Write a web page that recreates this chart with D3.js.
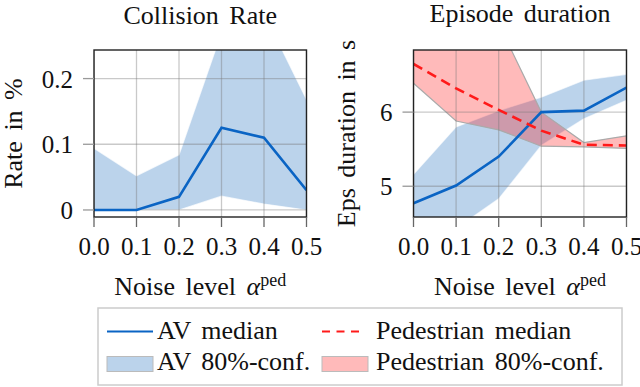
<!DOCTYPE html>
<html lang="en">
<head>
    <meta charset="UTF-8">
    <title>Collision rate and episode duration</title>
    <script src="https://d3js.org/d3.v7.min.js"></script>
    <style>
        body { margin: 0; background: #fff; }
        svg text { font-family: "Liberation Serif", "DejaVu Serif", serif; font-size: 26px; fill: #111; word-spacing: 4px; }
        svg text.tick { font-size: 25px; }
    </style>
</head>
<body>
<svg width="640" height="387"></svg>

<script>
    // noise levels alpha^ped
    const noise = [0.0, 0.1, 0.2, 0.3, 0.4, 0.5];
    const xTicks = ["0.0", "0.1", "0.2", "0.3", "0.4", "0.5"];

    // collision rate (AV)
    const colMed = [0, 0, 0.02, 0.125, 0.11, 0.03];
    const colLo  = [0, 0, 0, 0.021, 0.009, 0];
    const colHi  = [0.094, 0.052, 0.084, 0.27, 0.30, 0.168];

    // episode duration, AV
    const avMed = [4.77, 5.01, 5.40, 6.00, 6.02, 6.33];
    const avLo  = [4.30, 4.43, 4.83, 5.55, 5.91, 6.16];
    const avHi  = [5.16, 5.80, 6.02, 6.20, 6.43, 6.51];

    // episode duration, pedestrian
    const pedMed = [6.65, 6.32, 6.03, 5.75, 5.56, 5.55];
    const pedLo  = [6.39, 5.88, 5.76, 5.54, 5.53, 5.51];
    const pedHi  = [7.2, 7.2, 7.19, 6.0, 5.59, 5.68];

    const blueLine = "#0a64c4", blueFill = "rgba(30,110,190,0.3)";
    const redLine = "#ff1a1a", redFill = "rgba(255,0,0,0.27)";

    const svg = d3.select("svg");

    function panel(cfg) {
        const x = d3.scaleLinear().domain([0, 0.5]).range([cfg.left, cfg.right]);
        const y = d3.scaleLinear().domain(cfg.yDomain).range([217, 50]);
        const g = svg.append("g");

        const clipId = "clip" + cfg.id;
        svg.append("clipPath").attr("id", clipId)
            .append("rect").attr("x", cfg.left).attr("y", 50)
            .attr("width", cfg.right - cfg.left).attr("height", 167);

        const plot = g.append("g").attr("clip-path", "url(#" + clipId + ")");

        const area = (lo, hi) => d3.area()
            .x((d, i) => x(noise[i])).y0((d, i) => y(lo[i])).y1((d, i) => y(hi[i]))(lo);
        const line = vals => d3.line().x((d, i) => x(noise[i])).y(d => y(d))(vals);

        // confidence bands
        cfg.bands.forEach(b => {
            plot.append("path").attr("d", area(b.lo, b.hi)).attr("fill", b.fill);
            [b.lo, b.hi].forEach(v => plot.append("path").attr("d", line(v))
                .attr("fill", "none").attr("stroke", b.edge).attr("stroke-width", 1.2));
        });

        // grid
        plot.selectAll(".gx").data(noise).enter().append("line")
            .attr("x1", d => x(d)).attr("x2", d => x(d)).attr("y1", 50).attr("y2", 217)
            .attr("stroke", "rgba(120,120,120,0.4)").attr("stroke-width", 1.3);
        plot.selectAll(".gy").data(cfg.yTicks).enter().append("line")
            .attr("x1", cfg.left).attr("x2", cfg.right).attr("y1", d => y(d)).attr("y2", d => y(d))
            .attr("stroke", "rgba(120,120,120,0.4)").attr("stroke-width", 1.3);

        // medians
        cfg.lines.forEach(l => plot.append("path").attr("d", line(l.vals))
            .attr("fill", "none").attr("stroke", l.color).attr("stroke-width", 2.6)
            .attr("stroke-dasharray", l.dash || null));

        // frame
        g.append("rect").attr("x", cfg.left).attr("y", 50)
            .attr("width", cfg.right - cfg.left).attr("height", 167)
            .attr("fill", "none").attr("stroke", "#222").attr("stroke-width", 1.4);

        // x ticks
        g.selectAll(".tx").data(noise).enter().append("line")
            .attr("x1", d => x(d)).attr("x2", d => x(d)).attr("y1", 217).attr("y2", 227)
            .attr("stroke", "#666").attr("stroke-width", 1.3);
        g.selectAll(".lx").data(noise).enter().append("text").attr("class", "tick")
            .attr("x", d => x(d)).attr("y", 255).attr("text-anchor", "middle")
            .text((d, i) => xTicks[i]);

        // y ticks
        g.selectAll(".ty").data(cfg.yTicks).enter().append("line")
            .attr("x1", cfg.left - 11).attr("x2", cfg.left).attr("y1", d => y(d)).attr("y2", d => y(d))
            .attr("stroke", "#999").attr("stroke-width", 1.3);
        g.selectAll(".ly").data(cfg.yTicks).enter().append("text").attr("class", "tick")
            .attr("x", cfg.left - 21).attr("y", d => y(d) + 9).attr("text-anchor", "end")
            .text((d, i) => cfg.yLabels[i]);

        // titles and axis labels
        const cx = (cfg.left + cfg.right) / 2;
        g.append("text").attr("x", cx).attr("y", cfg.titleY).attr("text-anchor", "middle").text(cfg.title);

        const xl = g.append("text").attr("x", cx).attr("y", 295).attr("text-anchor", "middle");
        xl.append("tspan").text("Noise level ");
        xl.append("tspan").attr("font-style", "italic").text("α");
        xl.append("tspan").attr("dy", -9).attr("font-size", "18px").text("ped");

        g.append("text").attr("transform", `translate(${cfg.yLabelX},133.5) rotate(-90)`)
            .attr("text-anchor", "middle").text(cfg.yLabel);
    }

    panel({
        id: "a", left: 94, right: 306.5, yDomain: [-0.0107, 0.2435],
        yTicks: [0, 0.1, 0.2], yLabels: ["0", "0.1", "0.2"],
        title: "Collision Rate", titleY: 24, yLabel: "Rate in %", yLabelX: 22,
        bands: [{lo: colLo, hi: colHi, fill: blueFill, edge: "rgba(255,255,255,0.7)"}],
        lines: [{vals: colMed, color: blueLine}]
    });

    panel({
        id: "b", left: 413.5, right: 626.5, yDomain: [4.585, 6.838],
        yTicks: [5, 6], yLabels: ["5", "6"],
        title: "Episode duration", titleY: 22, yLabel: "Eps duration in s", yLabelX: 355,
        bands: [
            {lo: avLo, hi: avHi, fill: blueFill, edge: "rgba(255,255,255,0.6)"},
            {lo: pedLo, hi: pedHi, fill: redFill, edge: "#aaa"}
        ],
        lines: [
            {vals: avMed, color: blueLine},
            {vals: pedMed, color: redLine, dash: "10,6"}
        ]
    });

    // legend
    const leg = svg.append("g");
    leg.append("rect").attr("x", 98).attr("y", 308).attr("width", 524).attr("height", 77)
        .attr("fill", "#fff").attr("stroke", "#ccc").attr("stroke-width", 1.5);

    const legItems = [
        {col: 0, row: 0, kind: "line", color: blueLine, label: "AV median"},
        {col: 1, row: 0, kind: "dash", color: redLine, label: "Pedestrian median"},
        {col: 0, row: 1, kind: "patch", color: blueFill, label: "AV 80%-conf."},
        {col: 1, row: 1, kind: "patch", color: redFill, label: "Pedestrian 80%-conf."}
    ];
    const colX = [107, 322], rowY = [331.5, 364];
    legItems.forEach(it => {
        const x0 = colX[it.col], yc = rowY[it.row];
        if (it.kind === "patch") {
            leg.append("rect").attr("x", x0).attr("y", yc - 7.5).attr("width", 46).attr("height", 15)
                .attr("fill", it.color).attr("stroke", "#bbb").attr("stroke-width", 1);
        } else {
            leg.append("line").attr("x1", x0).attr("x2", x0 + (it.kind === "dash" ? 42 : 46))
                .attr("y1", yc).attr("y2", yc)
                .attr("stroke", it.color).attr("stroke-width", 1.8)
                .attr("stroke-dasharray", it.kind === "dash" ? "8,6.5" : null);
        }
        leg.append("text").attr("x", x0 + (it.col === 0 ? 50 : 54)).attr("y", yc + 7 + (it.row ? -1 : 0))
            .text(it.label);
    });
</script>
</body>
</html>
